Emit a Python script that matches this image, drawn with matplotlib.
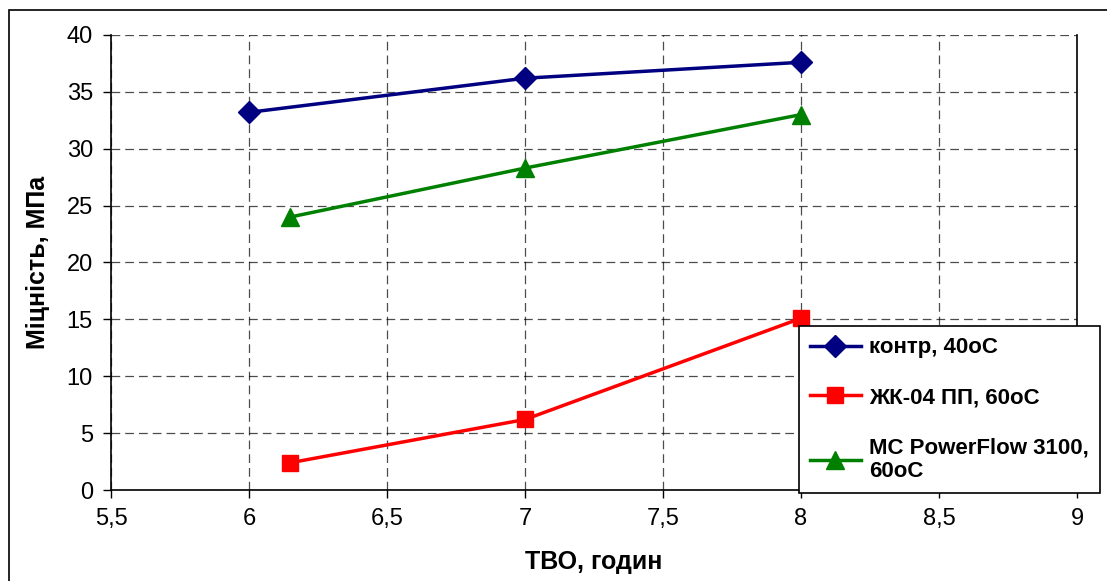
import matplotlib
matplotlib.use("Agg")
import matplotlib.pyplot as plt
from matplotlib.patches import Rectangle

plt.rcParams["font.family"] = ["Liberation Sans", "DejaVu Sans"]

# data
x_kontr = [6, 7, 8]
y_kontr = [33.2, 36.2, 37.6]
x_zhk = [6.15, 7, 8]
y_zhk = [2.4, 6.2, 15.1]
x_mc = [6.15, 7, 8]
y_mc = [24.0, 28.3, 33.0]

labels = ["контр, 40оС", "ЖК-04 ПП, 60оС", "МС PowerFlow 3100,\n60оС"]
x_ticks = [5.5, 6, 6.5, 7, 7.5, 8, 8.5, 9]
x_ticklabels = ["5,5", "6", "6,5", "7", "7,5", "8", "8,5", "9"]
y_ticks = [0, 5, 10, 15, 20, 25, 30, 35, 40]

fig = plt.figure(figsize=(11.07, 5.81), dpi=100)
fig.patches.append(Rectangle((9 / 1107, -0.1), 1.2, 1 - 10 / 581 + 0.1,
                             transform=fig.transFigure, fill=False,
                             edgecolor="black", linewidth=1.2))
ax = fig.add_axes([0.1003, 0.1566, 0.8726, 0.7832])

ax.plot(x_kontr, y_kontr, color="#000080", lw=2.5, marker="D", ms=11,
        label=labels[0], zorder=3)
ax.plot(x_zhk, y_zhk, color="#ff0000", lw=2.5, marker="s", ms=12,
        label=labels[1], zorder=3)
ax.plot(x_mc, y_mc, color="#008000", lw=2.5, marker="^", ms=13,
        label=labels[2], zorder=3)

ax.set_xlim(5.5, 9)
ax.set_ylim(0, 40)
ax.set_xticks(x_ticks)
ax.set_xticklabels(x_ticklabels)
ax.set_yticks(y_ticks)
ax.tick_params(direction="out", length=6, width=1, labelsize=17, pad=7)
ax.grid(True, color="black", linestyle=(0, (7, 4)), linewidth=0.9, alpha=0.7)
ax.spines["top"].set_visible(False)
for s in ["left", "bottom", "right"]:
    ax.spines[s].set_linewidth(1.2)

ax.set_xlabel("ТВО, годин", fontsize=18, fontweight="bold", labelpad=14)
ax.set_ylabel("Міцність, МПа", fontsize=18, fontweight="bold", labelpad=12)

leg = ax.legend(loc="upper left", bbox_to_anchor=(0.712, 0.360),
                prop={"size": 16, "weight": "bold"}, frameon=True,
                fancybox=False, edgecolor="black", handlelength=2.3,
                labelspacing=1.3, borderpad=0.5, handletextpad=0.35,
                borderaxespad=0, framealpha=1)
leg.get_frame().set_linewidth(1.2)
leg.set_zorder(5)

fig.savefig("out.png", dpi=100, facecolor="white")
